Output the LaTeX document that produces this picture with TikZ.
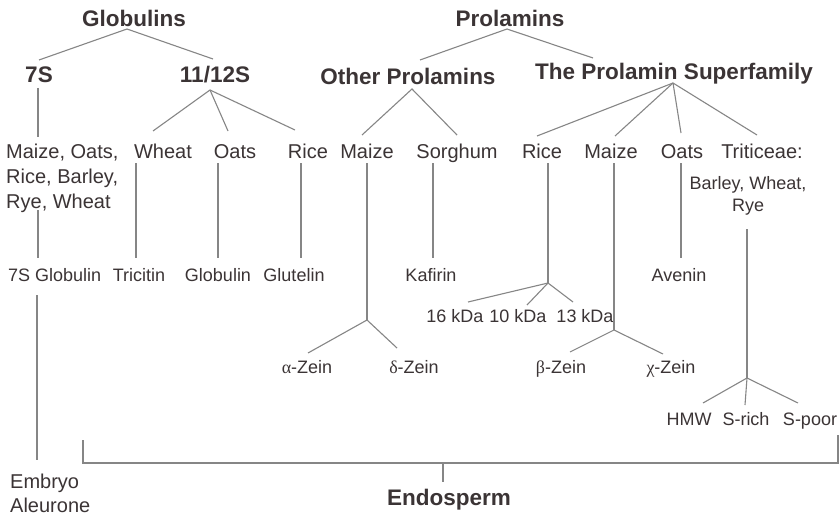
\documentclass[tikz,border=0pt]{standalone}
\usepackage{fontspec}
\setmainfont{Liberation Sans}
\newfontfamily\grk{Liberation Serif}
\definecolor{ink}{HTML}{3B3435}
\definecolor{wire}{HTML}{868686}

\begin{document}
\begin{tikzpicture}[x=1pt,y=-1pt,
  every node/.style={inner sep=0pt, text=ink},
  head/.style={font=\fontsize{22.5}{27}\selectfont\bfseries, anchor=base},
  taxon/.style={font=\fontsize{20}{25}\selectfont, anchor=base},
  protein/.style={font=\fontsize{18}{22}\selectfont, anchor=base},
  link/.style={draw=wire, line width=1.1pt}]
\fill[white] (0,0) rectangle (840,516);
\useasboundingbox (0,0) rectangle (840,516);

% ---- headings ----
\node[head] (glob)  at (134,27) {Globulins};
\node[head] (prol)  at (510,27) {Prolamins};
\node[head] (s7)    at (39,83)  {7S};
\node[head] (s11)   at (215,83) {11/12S};
\node[head] (other) at (408,85) {Other Prolamins};
\node[head] (super) at (674,80) {The Prolamin Superfamily};

% ---- cereals (multi-line nodes sit on their last baseline) ----
\node[taxon, anchor=base west, align=left] (glcereals) at (6,208) {Maize, Oats,\\Rice, Barley,\\Rye, Wheat};
\node[taxon] (glwheat) at (163,158) {Wheat};
\node[taxon] (gloats)  at (235,158) {Oats};
\node[taxon] (glrice)  at (308,158) {Rice};
\node[taxon] (opmaize) at (367,158) {Maize};
\node[taxon] (opsorg)  at (457,158) {Sorghum};
\node[taxon] (sfrice)  at (542,158) {Rice};
\node[taxon] (sfmaize) at (611,158) {Maize};
\node[taxon] (sfoats)  at (682,158) {Oats};
\node[taxon] (sftrit)  at (762,158) {Triticeae:};
\node[protein, align=center] (sftritsp) at (748,211) {Barley, Wheat,\\Rye};

% ---- proteins ----
\node[protein, anchor=base west] (g7s) at (8,281) {7S Globulin};
\node[protein] (tricitin) at (139,281) {Tricitin};
\node[protein] (globulin) at (218,281) {Globulin};
\node[protein] (glutelin) at (294,281) {Glutelin};
\node[protein] (kafirin)  at (431,281) {Kafirin};
\node[protein] (avenin)   at (679,281) {Avenin};
\node[protein] (k16) at (455,322) {16 kDa};
\node[protein] (k10) at (518,322) {10 kDa};
\node[protein] (k13) at (585,322) {13 kDa};
\node[protein] (azein) at (307,373) {{\grk α}-Zein};
\node[protein] (dzein) at (414,373) {{\grk δ}-Zein};
\node[protein] (bzein) at (561,373) {{\grk β}-Zein};
\node[protein] (czein) at (671,373) {{\grk χ}-Zein};
\node[protein] (hmw)   at (689,425) {HMW};
\node[protein] (srich) at (746,425) {S-rich};
\node[protein] (spoor) at (810,425) {S-poor};

% ---- tissues ----
\node[taxon, anchor=base west, align=left, font=\fontsize{20}{24}\selectfont] (embryo) at (10,512) {Embryo\\Aleurone};
\node[head] (endo) at (449,505) {Endosperm};

% ---- connector end points ----
\coordinate (glob-fork)  at (127,29);
\coordinate (s7-top)     at (39,60);
\coordinate (s11-top)    at (213,59);
\coordinate (s7-foot)    at (38,88);
\coordinate (glcereals-top) at (38,137);
\coordinate (s11-fork)   at (210,90);
\coordinate (glwheat-top) at (153,131);
\coordinate (gloats-top)  at (228,131);
\coordinate (glrice-top)  at (295,130);
\coordinate (prol-fork)  at (507,29);
\coordinate (other-top)  at (420,60);
\coordinate (super-top)  at (593,58);
\coordinate (other-fork) at (412,89);
\coordinate (opmaize-top) at (362,135);
\coordinate (opsorg-top)  at (457,135);
\coordinate (super-fork) at (673,83);
\coordinate (sfrice-top)  at (537,136);
\coordinate (sfmaize-top) at (615,136);
\coordinate (sfoats-top)  at (681,133);
\coordinate (sftrit-top)  at (757,135);

\coordinate (glcereals-foot) at (38,210);
\coordinate (g7s-top)        at (38,258);
\coordinate (glwheat-foot)   at (136,163);
\coordinate (tricitin-top)   at (136,258);
\coordinate (gloats-foot)    at (218,163);
\coordinate (globulin-top)   at (218,258);
\coordinate (glrice-foot)    at (301,163);
\coordinate (glutelin-top)   at (301,258);
\coordinate (opmaize-foot)   at (367,163);
\coordinate (zeinad-fork)    at (367,320);
\coordinate (opsorg-foot)    at (433,163);
\coordinate (kafirin-top)    at (433,258);
\coordinate (sfrice-foot)    at (548,163);
\coordinate (kda-fork)       at (548,283);
\coordinate (sfmaize-foot)   at (614,163);
\coordinate (zeinbc-fork)    at (614,330);
\coordinate (sfoats-foot)    at (681,163);
\coordinate (avenin-top)     at (681,258);
\coordinate (sftritsp-foot)  at (747,229);
\coordinate (trit-fork)      at (747,378);

\coordinate (azein-top) at (308,353);
\coordinate (dzein-top) at (397,348);
\coordinate (k16-top)   at (468,302);
\coordinate (k10-top)   at (527,305);
\coordinate (k13-top)   at (573,302);
\coordinate (bzein-top) at (570,352);
\coordinate (czein-top) at (663,354);
\coordinate (hmw-top)   at (703,403);
\coordinate (srich-top) at (745,405);
\coordinate (spoor-top) at (798,403);

\coordinate (g7s-foot)    at (37,295);
\coordinate (embryo-top)  at (37,460);
\coordinate (endo-left)   at (83,440);
\coordinate (endo-lcorner) at (83,463);
\coordinate (endo-rcorner) at (838,463);
\coordinate (endo-right)  at (838,435);
\coordinate (endo-stem)   at (443,463);
\coordinate (endo-top)    at (443,482);

% ---- tree connectors ----
\draw[link] (s7-top) -- (glob-fork) -- (s11-top);
\draw[link] (s7-foot) -- (glcereals-top);
\draw[link] (glwheat-top) -- (s11-fork) -- (glrice-top);
\draw[link] (s11-fork) -- (gloats-top);
\draw[link] (other-top) -- (prol-fork) -- (super-top);
\draw[link] (opmaize-top) -- (other-fork) -- (opsorg-top);
\draw[link] (sfrice-top) -- (super-fork) -- (sftrit-top);
\draw[link] (super-fork) -- (sfmaize-top);
\draw[link] (super-fork) -- (sfoats-top);

\draw[link] (glcereals-foot) -- (g7s-top);
\draw[link] (glwheat-foot) -- (tricitin-top);
\draw[link] (gloats-foot) -- (globulin-top);
\draw[link] (glrice-foot) -- (glutelin-top);
\draw[link] (opmaize-foot) -- (zeinad-fork);
\draw[link] (opsorg-foot) -- (kafirin-top);
\draw[link] (sfrice-foot) -- (kda-fork);
\draw[link] (sfmaize-foot) -- (zeinbc-fork);
\draw[link] (sfoats-foot) -- (avenin-top);
\draw[link] (sftritsp-foot) -- (trit-fork);

\draw[link] (azein-top) -- (zeinad-fork) -- (dzein-top);
\draw[link] (k16-top) -- (kda-fork) -- (k13-top);
\draw[link] (kda-fork) -- (k10-top);
\draw[link] (bzein-top) -- (zeinbc-fork) -- (czein-top);
\draw[link] (hmw-top) -- (trit-fork) -- (spoor-top);
\draw[link] (trit-fork) -- (srich-top);

% ---- tissue bracket ----
\draw[link] (g7s-foot) -- (embryo-top);
\draw[link] (endo-left) -- (endo-lcorner) -- (endo-rcorner) -- (endo-right);
\draw[link] (endo-stem) -- (endo-top);
\end{tikzpicture}
\end{document}
